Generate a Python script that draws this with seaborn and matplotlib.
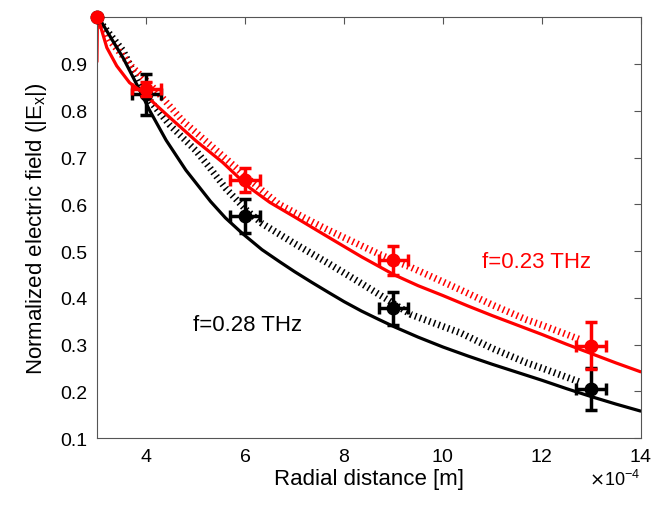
import numpy as np
import matplotlib
matplotlib.use("Agg")
import matplotlib.pyplot as plt
import seaborn as sns
from matplotlib.ticker import ScalarFormatter

# measured points (distance in m)
r_meas = [3e-4, 4e-4, 6e-4, 9e-4, 13e-4]
e_023 = [1.0, 0.847, 0.652, 0.48, 0.298]
e_028 = [1.0, 0.835, 0.575, 0.378, 0.205]
yerr_023 = [0.0, 0.015, 0.025, 0.031, 0.05]
yerr_028 = [0.0, 0.043, 0.036, 0.035, 0.045]
xerr = [0.0, 0.3e-4, 0.3e-4, 0.3e-4, 0.3e-4]

# model curves (solid), distance in units of 1e-4 m
r_model_023 = [3.0, 3.01, 3.06, 3.2, 3.4, 3.66, 3.93, 4.2, 4.47, 5.0, 5.54, 6.07, 6.5,
               7.0, 7.68, 8.35, 9.02, 9.5, 10.0, 10.5, 11.0, 11.5, 12.0, 12.5, 13.0,
               13.5, 14.0]
e_model_023 = [0.905, 1.0, 0.985, 0.935, 0.896, 0.86, 0.839, 0.812, 0.786, 0.736,
               0.69, 0.637, 0.604, 0.573, 0.53, 0.488, 0.449, 0.426, 0.405, 0.383,
               0.362, 0.342, 0.322, 0.301, 0.281, 0.261, 0.242]
r_model_028 = [3.0, 3.09, 3.3, 3.53, 3.87, 4.07, 4.4, 4.8, 5.3, 5.6, 5.94, 6.34, 6.7,
               7.0, 7.35, 7.68, 8.0, 8.35, 8.7, 9.02, 9.5, 10.0, 10.5, 11.0, 11.5,
               12.0, 12.5, 13.0, 13.5, 14.0]
e_model_028 = [1.0, 0.99, 0.953, 0.913, 0.843, 0.8, 0.737, 0.673, 0.606, 0.571,
               0.538, 0.503, 0.477, 0.456, 0.433, 0.412, 0.392, 0.372, 0.354, 0.338,
               0.316, 0.295, 0.276, 0.258, 0.241, 0.224, 0.206, 0.189, 0.173, 0.158]

# fits (dotted)
r_fit_023 = [3.0, 3.26, 3.7, 4.2, 4.73, 5.27, 5.8, 6.0, 6.67, 7.2, 7.68, 8.2, 8.68,
             9.0, 9.36, 10.36, 11.0, 11.7, 12.0, 12.8]
e_fit_023 = [1.0, 0.95, 0.895, 0.843, 0.779, 0.729, 0.68, 0.66, 0.601, 0.571, 0.545,
             0.519, 0.495, 0.48, 0.465, 0.417, 0.385, 0.353, 0.342, 0.31]
r_fit_028 = [3.0, 3.1, 3.53, 3.93, 4.47, 5.0, 5.27, 5.6, 6.0, 6.34, 7.0, 7.68, 8.35,
             8.88, 9.36, 10.36, 11.0, 11.7, 12.0, 12.8]
e_fit_028 = [1.0, 0.985, 0.928, 0.84, 0.77, 0.715, 0.68, 0.635, 0.59, 0.559, 0.516,
             0.474, 0.431, 0.396, 0.364, 0.325, 0.292, 0.261, 0.25, 0.219]

sns.set_style("white")
plt.rcParams['font.family'] = ['Liberation Sans', 'DejaVu Sans']

fig = plt.figure(figsize=(6.55, 5.06), dpi=100)
ax = fig.add_axes([0.148, 0.132, 0.83, 0.832])

s = 1e-4
for rr, ee, col in [(r_fit_028, e_fit_028, 'black'), (r_fit_023, e_fit_023, 'red')]:
    sns.lineplot(x=np.array(rr) * s, y=ee, ax=ax, color=col, sort=False, estimator=None,
                 lw=5)
    ax.lines[-1].set_dashes((0.22, 0.5))
    ax.lines[-1].set_dash_capstyle('butt')

sns.lineplot(x=np.array(r_model_028) * s, y=e_model_028, ax=ax, color='black',
             sort=False, estimator=None, lw=2.3)
sns.lineplot(x=np.array(r_model_023) * s, y=e_model_023, ax=ax, color='red',
             sort=False, estimator=None, lw=2.3)

ax.errorbar(r_meas, e_028, yerr=yerr_028, xerr=xerr, fmt='o', color='black', ms=9,
            elinewidth=2.5, capsize=4, capthick=2.5, clip_on=False, zorder=5)
ax.errorbar(r_meas, e_023, yerr=yerr_023, xerr=xerr, fmt='o', color='red', ms=9,
            elinewidth=2.5, capsize=4, capthick=2.5, clip_on=False, zorder=6)

ax.text(11.9e-4, 0.477, 'f=0.23 THz', color='red', fontsize=16, ha='center', va='center')
ax.text(6.05e-4, 0.343, 'f=0.28 THz', color='black', fontsize=16, ha='center', va='center')

ax.set_xlim(3e-4, 14e-4)
ax.set_ylim(0.1, 1.0)
ax.set_xticks([4e-4, 6e-4, 8e-4, 10e-4, 12e-4, 14e-4])
ax.set_yticks([0.1, 0.2, 0.3, 0.4, 0.5, 0.6, 0.7, 0.8, 0.9])
fmt = ScalarFormatter(useMathText=True)
fmt.set_powerlimits((-4, -4))
ax.xaxis.set_major_formatter(fmt)
ax.xaxis.get_offset_text().set_fontsize(13)
ax.xaxis.get_offset_text().set_color('black')

ax.tick_params(direction='in', length=5, width=0.8, color='#555555', labelsize=14,
               labelcolor='black', top=True, right=True, pad=7)
for sp in ax.spines.values():
    sp.set_color('#555555')
    sp.set_linewidth(0.8)

ax.set_xlabel('Radial distance [m]', fontsize=16, labelpad=2, color='black')
ax.set_ylabel('Normalized electric field (|E$_\\mathregular{x}$|)', fontsize=16,
              labelpad=8, color='black')

fig.savefig('out.png', dpi=100)
